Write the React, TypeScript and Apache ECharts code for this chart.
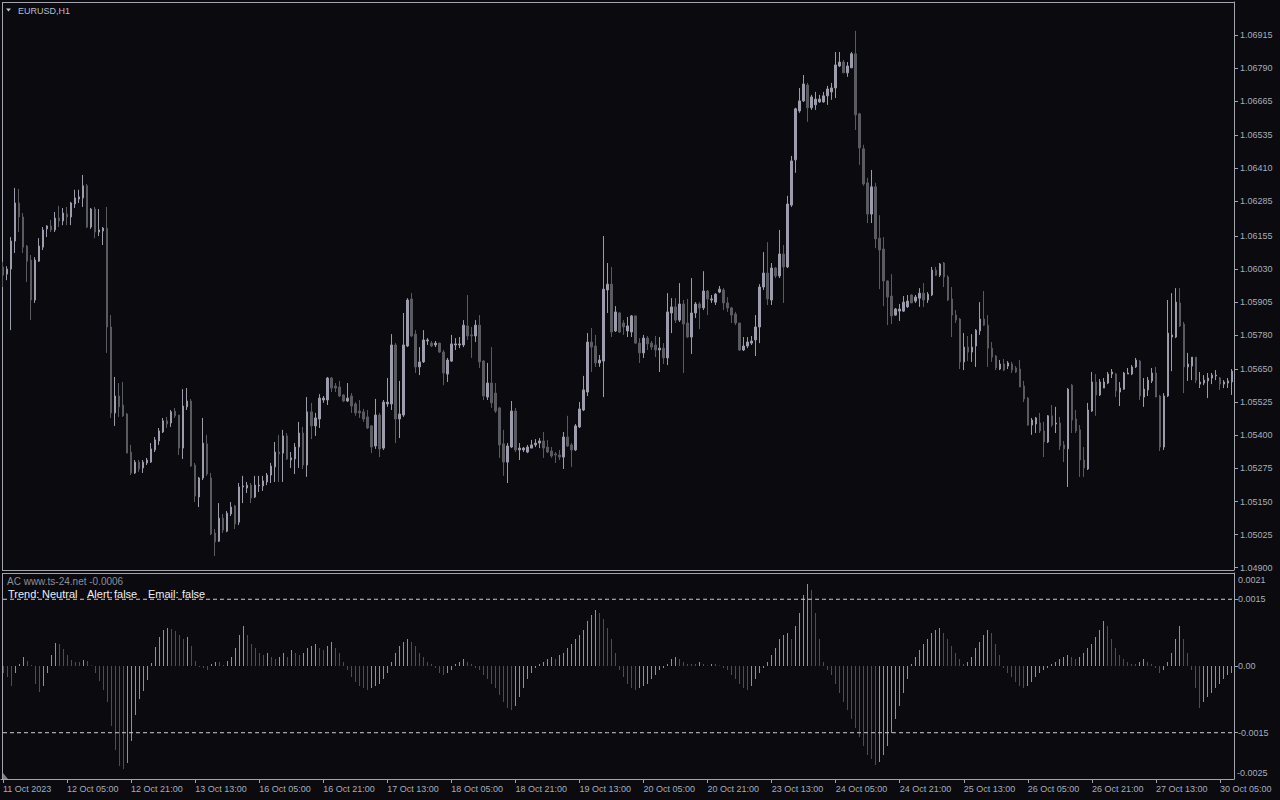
import React, { useEffect, useRef } from "react";
import * as echarts from "echarts";

const symbolTitle = "EURUSD,H1";
const indicatorTitle = "AC www.ts-24.net -0.0006";
const statusItems = [
  { text: "Trend:", x: 8 },
  { text: "Neutral", x: 42 },
  { text: "Alert:", x: 87 },
  { text: "false", x: 114 },
  { text: "Email:", x: 148 },
  { text: "false", x: 182 },
];

const timeLabels = [
  "11 Oct 2023", "12 Oct 05:00", "12 Oct 21:00", "13 Oct 13:00", "16 Oct 05:00",
  "16 Oct 21:00", "17 Oct 13:00", "18 Oct 05:00", "18 Oct 21:00", "19 Oct 13:00",
  "20 Oct 05:00", "20 Oct 21:00", "23 Oct 13:00", "24 Oct 05:00", "24 Oct 21:00",
  "25 Oct 13:00", "26 Oct 05:00", "26 Oct 21:00", "27 Oct 13:00", "30 Oct 05:00",
];
const barsPerTimeLabel = 16;

const priceTicks = [
  1.049, 1.05025, 1.0515, 1.05275, 1.054, 1.05525, 1.0565, 1.0578, 1.05905,
  1.0603, 1.06155, 1.06285, 1.0641, 1.06535, 1.06665, 1.0679, 1.06915,
];
const acTicks = [0.0015, 0, -0.0015];
const acLevels = [0.0015, -0.0015];
const acEdgeLabels = [
  { text: "0.0021", y: 580 },
  { text: "-0.0025", y: 773 },
];

const open = [
  1.06037,1.0601,1.06029,1.06135,1.06279,1.06226,1.06116,1.06063,1.05912,1.06059,
  1.06112,1.06181,1.06192,1.06177,1.06222,1.06211,1.06237,1.06226,1.06275,1.06294,
  1.06298,1.06344,1.06188,1.06256,1.06169,1.06173,1.06184,1.0581,1.05485,1.05549,
  1.05515,1.05481,1.05337,1.05258,1.05299,1.05277,1.05296,1.05299,1.05345,1.05379,
  1.05413,1.05455,1.05447,1.05492,1.05477,1.05352,1.05508,1.0553,1.05288,1.05167,
  1.05239,1.05368,1.05239,1.05031,1.05,1.05087,1.05038,1.05103,1.05133,1.05072,
  1.05205,1.05201,1.05212,1.05167,1.05209,1.05209,1.05224,1.0525,1.05281,1.05337,
  1.05333,1.05398,1.05307,1.05311,1.05356,1.05409,1.05288,1.05489,1.05436,1.05462,
  1.05534,1.05534,1.05617,1.05587,1.05583,1.05553,1.0553,1.05549,1.05519,1.05492,
  1.05489,1.0547,1.05436,1.0536,1.05477,1.05352,1.05519,1.05519,1.05742,1.05462,
  1.05477,1.05738,1.05916,1.05783,1.05659,1.05678,1.05757,1.05749,1.05742,1.05749,
  1.05715,1.05632,1.05681,1.05742,1.05742,1.05742,1.05814,1.0578,1.05776,1.05817,
  1.05681,1.05545,1.05598,1.0556,1.05504,1.05368,1.05299,1.05356,1.05492,1.05345,
  1.05345,1.05337,1.05352,1.05364,1.05371,1.05379,1.05356,1.05341,1.0533,1.05326,
  1.05318,1.05394,1.05364,1.05345,1.05432,1.05496,1.05564,1.05753,1.05738,1.05674,
  1.05681,1.0595,1.05972,1.05795,1.05863,1.05825,1.05795,1.05791,1.05852,1.05749,
  1.05712,1.05768,1.05749,1.05742,1.05723,1.0573,1.05693,1.05863,1.05886,1.05836,
  1.05897,1.05825,1.05772,1.05863,1.05897,1.05882,1.05946,1.05912,1.05904,1.05942,
  1.0595,1.05901,1.05882,1.05859,1.05825,1.05723,1.05738,1.05749,1.05761,1.0581,
  1.05961,1.06014,1.05912,1.06033,1.06003,1.06086,1.06037,1.06271,1.06442,1.06627,
  1.06665,1.06725,1.06639,1.0665,1.06661,1.06661,1.06684,1.06699,1.06714,1.06797,
  1.06812,1.06771,1.0679,1.06843,1.06616,1.06484,1.06355,1.06237,1.0634,1.06146,
  1.06105,1.05984,1.05927,1.05855,1.0587,1.0587,1.05886,1.05931,1.05908,1.05919,
  1.05938,1.05912,1.05931,1.06025,1.06006,1.06052,1.05999,1.05916,1.05855,1.0584,
  1.05678,1.05734,1.05715,1.05738,1.05795,1.0584,1.05817,1.0573,1.057,1.05651,
  1.0567,1.05662,1.0567,1.05655,1.05651,1.05587,1.05541,1.05439,1.05443,1.05447,
  1.05417,1.05375,1.05474,1.05443,1.05447,1.05364,1.05349,1.0559,1.05462,1.05421,
  1.05307,1.05273,1.05492,1.05602,1.05553,1.05579,1.05598,1.05632,1.05632,1.05564,
  1.05575,1.05632,1.05632,1.05659,1.05681,1.05545,1.05572,1.05606,1.05636,1.05549,
  1.05356,1.05549,1.05772,1.05772,1.05901,1.05821,1.05659,1.05662,1.05696,1.05594,
  1.05598,1.05606,1.05617,1.05625,1.05617,1.05594,1.05598,1.05602,
];

const close = [
  1.06006,1.06029,1.06135,1.06279,1.06226,1.06112,1.06059,1.05912,1.06063,1.06116,
  1.06177,1.06192,1.06177,1.06222,1.06211,1.06241,1.06226,1.06279,1.06298,1.06302,
  1.06344,1.06188,1.06256,1.06169,1.06177,1.06184,1.0581,1.05485,1.05549,1.05508,
  1.05474,1.05333,1.05258,1.05299,1.05273,1.05299,1.05307,1.05349,1.05383,1.05417,
  1.05455,1.05443,1.05489,1.05474,1.05352,1.05511,1.0553,1.05284,1.05171,1.05239,
  1.05371,1.05254,1.05027,1.04997,1.05087,1.05042,1.05106,1.05129,1.05065,1.05205,
  1.05209,1.05212,1.05163,1.05212,1.05212,1.05228,1.0525,1.05284,1.05337,1.0533,
  1.05398,1.05311,1.05315,1.05356,1.05409,1.05288,1.05489,1.05436,1.05466,1.05541,
  1.05541,1.05617,1.05579,1.05579,1.05549,1.0553,1.05541,1.05511,1.05485,1.05485,
  1.05462,1.05428,1.05356,1.05477,1.05349,1.05526,1.05526,1.05742,1.05462,1.05481,
  1.05742,1.05912,1.05776,1.05659,1.05678,1.05761,1.05761,1.05738,1.05749,1.05715,
  1.05636,1.05685,1.05746,1.05746,1.05746,1.05817,1.05776,1.05776,1.05817,1.05678,
  1.05549,1.05598,1.05523,1.05492,1.05364,1.05299,1.0536,1.05492,1.05345,1.05352,
  1.05352,1.05356,1.05364,1.05371,1.05379,1.05352,1.05337,1.05322,1.05326,1.05318,
  1.05394,1.0536,1.05345,1.05436,1.055,1.05572,1.05753,1.05734,1.05674,1.05685,
  1.05953,1.05972,1.05791,1.05867,1.05791,1.0581,1.05814,1.05852,1.05749,1.05712,
  1.05768,1.05746,1.05734,1.05723,1.0573,1.05693,1.05867,1.05886,1.05836,1.05897,
  1.05821,1.05772,1.05863,1.05897,1.05882,1.05946,1.05916,1.05916,1.05934,1.05953,
  1.05901,1.05882,1.05855,1.05825,1.05723,1.05738,1.05753,1.05757,1.0581,1.05961,
  1.06014,1.05916,1.06033,1.06003,1.06086,1.06037,1.06275,1.06438,1.06635,1.06665,
  1.06729,1.06639,1.0668,1.06672,1.06672,1.06684,1.0671,1.06714,1.06801,1.06812,
  1.06771,1.06797,1.06843,1.06612,1.06487,1.06351,1.06237,1.0634,1.06143,1.06101,
  1.05984,1.05923,1.05852,1.05878,1.05878,1.05904,1.05908,1.05901,1.05923,1.05938,
  1.05912,1.05934,1.06025,1.06006,1.06048,1.05999,1.05912,1.05855,1.05836,1.05678,
  1.05734,1.05715,1.05734,1.05798,1.0584,1.05817,1.0573,1.05696,1.05655,1.0567,
  1.05647,1.05674,1.05647,1.0564,1.05583,1.05538,1.05439,1.05458,1.05466,1.05417,
  1.05375,1.05474,1.05439,1.05447,1.0536,1.05349,1.05575,1.05458,1.05417,1.05307,
  1.05277,1.05496,1.05602,1.05553,1.05602,1.05602,1.05632,1.0564,1.05568,1.05579,
  1.05636,1.05636,1.05659,1.05685,1.05549,1.05575,1.05609,1.05636,1.05545,1.05356,
  1.05549,1.05787,1.0578,1.05904,1.05814,1.05659,1.0567,1.05696,1.05609,1.05602,
  1.05609,1.05617,1.05628,1.05628,1.05594,1.05602,1.05606,1.05643,
];

const high = [
  1.06056,1.0604,1.0615,1.06336,1.06332,1.06241,1.0612,1.06082,1.06074,1.06146,
  1.06188,1.06195,1.06215,1.06245,1.06268,1.0626,1.06264,1.06283,1.06329,1.06329,
  1.06385,1.06351,1.0626,1.06264,1.06256,1.06188,1.06264,1.05855,1.05621,1.05598,
  1.05602,1.05485,1.05364,1.05307,1.05307,1.05307,1.05315,1.05371,1.05394,1.05428,
  1.05466,1.0547,1.05496,1.05504,1.05477,1.05575,1.05579,1.05538,1.05296,1.05243,
  1.05466,1.05402,1.05258,1.05046,1.05144,1.05103,1.05114,1.05148,1.05137,1.0522,
  1.05247,1.05224,1.0522,1.05247,1.05247,1.05247,1.05258,1.05296,1.05375,1.05402,
  1.05421,1.05409,1.05337,1.05371,1.05451,1.05432,1.05545,1.05523,1.05485,1.05556,
  1.05549,1.05621,1.05621,1.05598,1.05606,1.05556,1.05598,1.0556,1.05526,1.05534,
  1.055,1.05496,1.05439,1.05538,1.05485,1.05534,1.05617,1.05783,1.05749,1.05606,
  1.05863,1.05919,1.05938,1.05798,1.05734,1.05798,1.05768,1.05757,1.05757,1.05749,
  1.05723,1.05693,1.0578,1.05768,1.05772,1.05836,1.05931,1.0581,1.05836,1.05855,
  1.05685,1.05674,1.05734,1.05598,1.05508,1.05421,1.05371,1.0553,1.05504,1.05371,
  1.05356,1.05364,1.05383,1.05386,1.0539,1.05413,1.05383,1.05356,1.05337,1.05345,
  1.05413,1.05474,1.05371,1.05443,1.05526,1.05625,1.05787,1.05806,1.0578,1.05704,
  1.06154,1.06052,1.06037,1.05889,1.05867,1.05836,1.05848,1.05855,1.05852,1.05768,
  1.0578,1.05776,1.05757,1.05776,1.05772,1.05749,1.05938,1.05919,1.05919,1.05976,
  1.05912,1.05916,1.05995,1.05904,1.05904,1.06021,1.0595,1.05931,1.05938,1.05965,
  1.05957,1.05923,1.05886,1.05867,1.05825,1.05772,1.05772,1.05776,1.05855,1.05972,
  1.06093,1.06131,1.06052,1.06037,1.06177,1.0612,1.06306,1.06457,1.06639,1.06714,
  1.06763,1.06733,1.06688,1.06699,1.06688,1.06699,1.06722,1.06733,1.0685,1.0685,
  1.0682,1.06812,1.0685,1.0693,1.0662,1.06499,1.06374,1.06404,1.06355,1.06233,
  1.0615,1.05987,1.0601,1.05882,1.05897,1.05927,1.05931,1.05934,1.05931,1.05957,
  1.05976,1.05942,1.06037,1.06037,1.06052,1.06056,1.06006,1.05961,1.05874,1.05844,
  1.05787,1.05776,1.05783,1.05802,1.05904,1.05946,1.05855,1.05753,1.05704,1.05685,
  1.05689,1.05681,1.05678,1.05662,1.05685,1.05606,1.05545,1.05466,1.0547,1.05485,
  1.05451,1.05477,1.05515,1.05508,1.0547,1.05379,1.05579,1.05594,1.05496,1.05439,
  1.05356,1.05523,1.0564,1.05632,1.05613,1.05617,1.0564,1.05651,1.05636,1.05602,
  1.0564,1.05655,1.05666,1.05693,1.05685,1.05617,1.05621,1.05655,1.05659,1.05553,
  1.0556,1.05912,1.05938,1.05957,1.05957,1.05829,1.05712,1.05696,1.05696,1.0564,
  1.05628,1.05636,1.05636,1.05647,1.05621,1.05609,1.05617,1.05651,
];

const low = [
  1.05961,1.05987,1.05798,1.0609,1.06169,1.0609,1.0598,1.05836,1.05901,1.06056,
  1.06101,1.0615,1.06169,1.06169,1.06188,1.06195,1.06195,1.06195,1.0626,1.06279,
  1.06264,1.06184,1.06181,1.06146,1.06154,1.0612,1.05712,1.05466,1.05436,1.0547,
  1.0547,1.05333,1.0525,1.05254,1.05262,1.05258,1.05288,1.05296,1.05337,1.05364,
  1.05409,1.05428,1.05432,1.05466,1.05326,1.05311,1.05496,1.05281,1.05148,1.05129,
  1.05231,1.05247,1.05023,1.04944,1.04997,1.05031,1.05034,1.05095,1.05046,1.05061,
  1.05144,1.05182,1.05144,1.05163,1.05186,1.0519,1.05212,1.0522,1.05224,1.05224,
  1.05224,1.05307,1.05277,1.05254,1.05277,1.05273,1.05243,1.05386,1.05398,1.05428,
  1.05523,1.05515,1.05564,1.05564,1.05545,1.05526,1.05526,1.05485,1.05474,1.05466,
  1.05451,1.05424,1.05333,1.05349,1.05318,1.05345,1.05508,1.05496,1.05371,1.0539,
  1.0547,1.05734,1.05772,1.05636,1.05628,1.05674,1.05742,1.05734,1.05734,1.05712,
  1.0559,1.05602,1.05678,1.05723,1.0573,1.05734,1.05761,1.05693,1.05753,1.05655,
  1.05534,1.05534,1.05504,1.05485,1.05315,1.05247,1.0522,1.05352,1.05337,1.05307,
  1.05337,1.05333,1.05352,1.05356,1.05352,1.05315,1.05333,1.05315,1.05296,1.05307,
  1.05273,1.05356,1.05281,1.05341,1.05428,1.05492,1.05549,1.0564,1.05659,1.05659,
  1.05545,1.05863,1.05772,1.05791,1.05787,1.0578,1.05772,1.05772,1.05746,1.05674,
  1.05693,1.05723,1.05723,1.05696,1.0564,1.0567,1.05666,1.05787,1.05825,1.05829,
  1.05636,1.05768,1.05708,1.05844,1.05802,1.05874,1.05855,1.05901,1.05893,1.05938,
  1.05874,1.05867,1.05825,1.05817,1.05719,1.05719,1.0573,1.05742,1.057,1.05749,
  1.0595,1.05893,1.05893,1.05995,1.05995,1.05901,1.06033,1.06264,1.06393,1.0662,
  1.06661,1.06586,1.06631,1.06631,1.06658,1.06658,1.0665,1.06669,1.06676,1.06793,
  1.06771,1.06756,1.0679,1.06555,1.06423,1.06344,1.06203,1.06203,1.06108,1.05953,
  1.05889,1.05817,1.05821,1.05852,1.05833,1.05867,1.05882,1.05901,1.05901,1.05886,
  1.05886,1.05901,1.05927,1.06003,1.05999,1.05961,1.05908,1.05772,1.05825,1.05651,
  1.05647,1.05681,1.05678,1.05659,1.0578,1.05814,1.05659,1.05678,1.05647,1.05647,
  1.05643,1.05651,1.05636,1.05636,1.05583,1.05526,1.05436,1.05402,1.05409,1.05409,
  1.05318,1.05371,1.05432,1.05409,1.05345,1.05299,1.05205,1.05409,1.05409,1.05243,
  1.05243,1.05269,1.05489,1.05474,1.05549,1.05579,1.05594,1.05617,1.05545,1.05511,
  1.05572,1.05632,1.05628,1.05655,1.05534,1.05508,1.05549,1.05598,1.05545,1.05341,
  1.05345,1.05545,1.05643,1.05768,1.0581,1.0556,1.05606,1.05609,1.05598,1.05579,
  1.0559,1.05541,1.05594,1.05609,1.05572,1.05579,1.05579,1.05553,
];

const acValues = [
  -1.6e-4,-2.4e-4,-4.4e-4,-1.5e-4,0.45e-4,2.1e-4,1.2e-4,0.15e-4,-4.0e-4,-5.8e-4,
  -4.4e-4,-1.5e-4,2.5e-4,5.1e-4,5.0e-4,3.8e-4,2.5e-4,1.35e-4,0.9e-4,0.8e-4,
  1.35e-4,1.1e-4,0.05e-4,-1.6e-4,-3.3e-4,-5.4e-4,-8.0e-4,-13.5e-4,-18.9e-4,-22.5e-4,
  -23.2e-4,-21.8e-4,-16.8e-4,-11.0e-4,-7.4e-4,-5.6e-4,-3.2e-4,0.75e-4,4.3e-4,6.5e-4,
  8.0e-4,8.6e-4,8.3e-4,7.8e-4,7.0e-4,6.0e-4,6.5e-4,4.6e-4,1.2e-4,-0.3e-4,
  -0.5e-4,-1e-4,0.5e-4,1.0e-4,0.8e-4,0.3e-4,1.2e-4,2.0e-4,4e-4,7e-4,
  9e-4,7e-4,5e-4,4e-4,3e-4,2.5e-4,3e-4,2e-4,1.5e-4,2e-4,
  3e-4,2e-4,3.5e-4,3e-4,2.5e-4,3e-4,4e-4,4.5e-4,5e-4,4e-4,
  3.5e-4,4.5e-4,5.5e-4,4e-4,3e-4,1e-4,-1e-4,-2.5e-4,-3.5e-4,-4.5e-4,
  -5e-4,-5.5e-4,-5e-4,-4.5e-4,-4e-4,-3e-4,-1.5e-4,1e-4,3e-4,4.5e-4,
  5.5e-4,6e-4,5.5e-4,4.5e-4,3e-4,2e-4,1e-4,0.5e-4,-0.5e-4,-1.5e-4,
  -2e-4,-1.5e-4,-1e-4,0.5e-4,1e-4,1.5e-4,1e-4,0.5e-4,-0.5e-4,-1e-4,
  -2e-4,-3e-4,-4e-4,-5e-4,-6.5e-4,-8e-4,-9.5e-4,-10e-4,-9e-4,-7e-4,
  -5e-4,-3e-4,-1.5e-4,-0.5e-4,0.5e-4,1e-4,1.5e-4,2e-4,1.5e-4,2.5e-4,
  3e-4,4e-4,5e-4,6e-4,7e-4,8e-4,10e-4,11.5e-4,12.5e-4,12e-4,
  10.5e-4,8.5e-4,6e-4,3e-4,-1e-4,-2.5e-4,-4e-4,-5e-4,-5.5e-4,-5e-4,
  -4.5e-4,-4e-4,-3e-4,-2e-4,-1e-4,-0.5e-4,0.5e-4,1.5e-4,2e-4,1.5e-4,
  1e-4,0.5e-4,0.5e-4,0.5e-4,1e-4,0.5e-4,0,0.5e-4,0.5e-4,0,
  -0.5e-4,-1e-4,-2e-4,-3e-4,-4e-4,-5e-4,-5.5e-4,-4.5e-4,-3e-4,-1.5e-4,
  -0.5e-4,1e-4,2.5e-4,4e-4,6e-4,7e-4,7.5e-4,6e-4,9e-4,12e-4,
  16e-4,18.5e-4,17e-4,12e-4,6e-4,1e-4,-1e-4,-2e-4,-4e-4,-6e-4,
  -8e-4,-10e-4,-12e-4,-14e-4,-16e-4,-18e-4,-20e-4,-21e-4,-22.3e-4,-21.5e-4,
  -20e-4,-18e-4,-15e-4,-12e-4,-9e-4,-6e-4,-3e-4,0.5e-4,2e-4,3.5e-4,
  5e-4,6e-4,7.5e-4,8e-4,8.5e-4,7.5e-4,6e-4,4.5e-4,3e-4,1.5e-4,
  0.5e-4,1e-4,2e-4,4e-4,5.5e-4,7e-4,8e-4,7.5e-4,5e-4,2.5e-4,
  -0.5e-4,-1.5e-4,-2.5e-4,-3.5e-4,-4.5e-4,-5e-4,-4.5e-4,-3.5e-4,-2.5e-4,-1.5e-4,
  -1e-4,-0.5e-4,0.5e-4,1e-4,1.5e-4,2e-4,2.5e-4,2e-4,1.5e-4,2e-4,
  3e-4,4e-4,5e-4,6.5e-4,8e-4,10e-4,9e-4,6e-4,4e-4,2.5e-4,
  1.5e-4,1e-4,0.5e-4,0.5e-4,1e-4,1.5e-4,1e-4,0.5e-4,-0.5e-4,-1.5e-4,
  -1e-4,1e-4,3e-4,6e-4,9e-4,6e-4,3e-4,-1e-4,-5e-4,-9.5e-4,
  -8e-4,-7e-4,-6e-4,-5e-4,-4e-4,-3e-4,-2e-4,-1.5e-4,
];

const BG = "#0a0a0f";
const FRAME = "#a2a5ad";
const TEXT = "#a7aebb";
const BULL = "#9c9cac";
const BEAR = "#5a5a61";
const AC_UP = "#20e020";
const AC_DOWN = "#dc1212";
const LEVEL = "#d2d2d2";
const FONT = "'Liberation Sans', Arial, sans-serif";

export default function App() {
  const ref = useRef<HTMLDivElement>(null);

  useEffect(() => {
    document.body.style.margin = "0";
    document.body.style.background = BG;
    const chart = echarts.init(ref.current!, null, { renderer: "svg" });
    const cats = close.map((_, i) => String(i));
    const candles = open.map((o, i) => [o, close[i], low[i], high[i]]);
    const acData = acValues.map((v, i) => [i, v, i > 0 && v > acValues[i - 1] ? 1 : 0]);
    const isLabelBar = (i: number) => i % barsPerTimeLabel === 0;

    const levelSeries = acLevels.map((lvl) => ({
      type: "line",
      xAxisIndex: 1,
      yAxisIndex: 1,
      data: cats.map(() => lvl),
      symbol: "none",
      silent: true,
      z: 5,
      lineStyle: { color: LEVEL, width: 1, type: [4, 3] },
    }));

    const option: any = {
      animation: false,
      backgroundColor: BG,
      grid: [
        { left: 1, right: 46, top: 2, height: 568 },
        { left: 1, right: 46, top: 573, height: 206 },
      ],
      xAxis: [
        {
          type: "category",
          gridIndex: 0,
          data: cats,
          axisLine: { show: false, onZero: false },
          axisTick: { show: false },
          axisLabel: { show: false },
          splitLine: { show: false },
        },
        {
          type: "category",
          gridIndex: 1,
          data: cats,
          axisLine: { show: true, onZero: false, lineStyle: { color: FRAME, width: 1 } },
          axisTick: {
            show: true,
            alignWithLabel: true,
            interval: (i: number) => isLabelBar(i),
            length: 4,
            lineStyle: { color: FRAME },
          },
          axisLabel: {
            interval: (i: number) => isLabelBar(i),
            formatter: (_v: string, i: number) => timeLabels[i / barsPerTimeLabel] ?? "",
            align: "left",
            color: TEXT,
            fontSize: 9,
            fontFamily: FONT,
            margin: 5,
            hideOverlap: false,
          },
          splitLine: { show: false },
        },
      ],
      yAxis: [
        {
          type: "value",
          gridIndex: 0,
          position: "right",
          min: 1.04891,
          max: 1.07039,
          axisLine: { show: true, lineStyle: { color: FRAME } },
          axisTick: { show: true, customValues: priceTicks, length: 4, lineStyle: { color: FRAME } },
          axisLabel: {
            customValues: priceTicks,
            formatter: (v: number) => v.toFixed(5),
            color: TEXT,
            fontSize: 9,
            fontFamily: FONT,
            margin: 6,
          },
          splitLine: { show: false },
        },
        {
          type: "value",
          gridIndex: 1,
          position: "right",
          min: -0.00254,
          max: 0.00209,
          axisLine: { show: true, lineStyle: { color: FRAME } },
          axisTick: { show: true, customValues: acTicks, length: 4, lineStyle: { color: FRAME } },
          axisLabel: {
            customValues: acTicks,
            formatter: (v: number) => (v === 0 ? "0.00" : v.toFixed(4)),
            color: TEXT,
            fontSize: 9,
            fontFamily: FONT,
            margin: 4,
          },
          splitLine: { show: false },
        },
      ],
      series: [
        {
          type: "candlestick",
          xAxisIndex: 0,
          yAxisIndex: 0,
          data: candles,
          barWidth: 2,
          itemStyle: {
            color: BULL,
            color0: BEAR,
            borderColor: BULL,
            borderColor0: BEAR,
            borderWidth: 1,
          },
        },
        {
          type: "custom",
          xAxisIndex: 1,
          yAxisIndex: 1,
          data: acData,
          encode: { x: 0, y: 1 },
          renderItem: (_params: any, api: any) => {
            const idx = api.value(0);
            const v = api.value(1);
            const p0 = api.coord([idx, 0]);
            const p1 = api.coord([idx, v]);
            const x = Math.floor(p0[0]) + 0.5;
            const y0 = Math.round(p0[1]);
            const y1 = Math.round(p1[1]);
            return {
              type: "line",
              shape: { x1: x, y1: y0, x2: x, y2: y1 === y0 ? y0 - 0.5 : y1 },
              style: { stroke: api.value(2) ? AC_UP : AC_DOWN, lineWidth: 1 },
            };
          },
        },
        ...levelSeries,
      ],
      graphic: [
        { type: "line", shape: { x1: 2, y1: 2.5, x2: 1234, y2: 2.5 }, style: { stroke: FRAME, lineWidth: 1 } },
        { type: "line", shape: { x1: 2.5, y1: 2, x2: 2.5, y2: 571 }, style: { stroke: FRAME, lineWidth: 1 } },
        { type: "line", shape: { x1: 2, y1: 570.5, x2: 1234, y2: 570.5 }, style: { stroke: FRAME, lineWidth: 1 } },
        { type: "line", shape: { x1: 2, y1: 573.5, x2: 1234, y2: 573.5 }, style: { stroke: FRAME, lineWidth: 1 } },
        { type: "line", shape: { x1: 2.5, y1: 573, x2: 2.5, y2: 779 }, style: { stroke: FRAME, lineWidth: 1 } },
        { type: "polygon", shape: { points: [[3, 773], [3, 779], [8, 779]] }, style: { fill: "#7d7f87" } },
        { type: "polygon", shape: { points: [[6, 8.5], [11, 8.5], [8.5, 11.5]] }, style: { fill: "#c3c7cf" } },
        {
          type: "text",
          x: 18,
          y: 10.5,
          style: { text: symbolTitle, fill: "#b9bfcb", font: `9px ${FONT}`, verticalAlign: "middle" },
        },
        {
          type: "text",
          x: 7,
          y: 581,
          style: { text: indicatorTitle, fill: "#8c9099", font: `10px ${FONT}`, verticalAlign: "middle" },
        },
        ...statusItems.map((s) => ({
          type: "text",
          x: s.x,
          y: 594,
          z: 100,
          style: { text: s.text, fill: "#eef0f5", font: `11px ${FONT}`, verticalAlign: "middle" },
        })),
        ...acEdgeLabels.map((l) => ({
          type: "text",
          x: l.text.startsWith("-") ? 1237 : 1238,
          y: l.y,
          style: { text: l.text, fill: TEXT, font: `9px ${FONT}`, verticalAlign: "middle" },
        })),
      ],
    };

    chart.setOption(option);
    return () => chart.dispose();
  }, []);

  return (
    <div
      ref={ref}
      style={{ position: "fixed", left: 0, top: 0, width: 1280, height: 800, background: BG }}
    />
  );
}
